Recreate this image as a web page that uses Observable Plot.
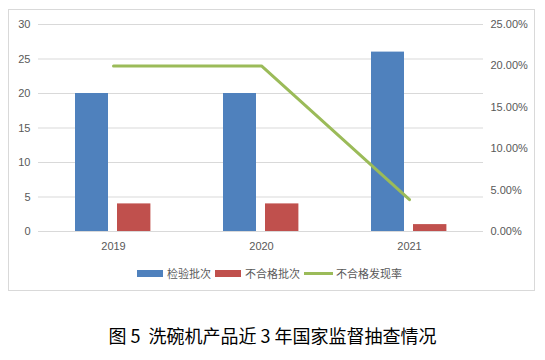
<!DOCTYPE html>
<html>
<head>
<meta charset="utf-8">
<script src="https://cdn.jsdelivr.net/npm/d3@7"></script>
<script src="https://cdn.jsdelivr.net/npm/@observablehq/plot@0.6"></script>
<style>
  html, body { margin: 0; padding: 0; background: #fff; }
  body { width: 545px; height: 360px; position: relative; overflow: hidden; }
  #frame { position: absolute; left: 8px; top: 9px; width: 527px; height: 282px; box-sizing: border-box; border: 1px solid #d9d9d9; }
  #chart { position: absolute; left: 0; top: 0; }
  #legend { position: absolute; left: 137px; top: 265px; height: 16px; display: flex; align-items: center;
            font-family: "Noto Sans CJK SC", sans-serif; font-size: 11px; color: #595959; }
  #legend .sw { display: inline-block; width: 26px; height: 7px; margin-right: 4px; }
  #legend .ln { display: inline-block; width: 29px; height: 3px; margin-right: 3px; }
  #legend .item { display: flex; align-items: center; margin-right: 4px; }
  #caption { position: absolute; left: 0; width: 545px; top: 322px; line-height: 26px; text-align: center;
             font-family: "Noto Sans CJK SC", sans-serif; font-size: 18px; color: #000; }
</style>
</head>
<body>
<div id="frame"></div>
<div id="chart"></div>
<div id="legend"></div>
<div id="caption">图 5&nbsp;&nbsp;洗碗机产品近 3 年国家监督抽查情况</div>
<script>
const years = ["2019", "2020", "2021"];
const inspected = [20, 20, 26];      // 检验批次
const failed = [4, 4, 1];            // 不合格批次
const failRate = [0.20, 0.20, 0.0385]; // 不合格发现率
const leftTicks = [0, 5, 10, 15, 20, 25, 30];
const rightTicks = [0, 0.05, 0.10, 0.15, 0.20, 0.25];
const seriesNames = ["检验批次", "不合格批次", "不合格发现率"];
const colors = ["#4F81BD", "#C0504D", "#9BBB59"];

const countMax = 30, rateMax = 0.25;
const k = countMax / rateMax;

const rows = years.map((y, i) => ({year: y, inspected: inspected[i], failed: failed[i], rate: failRate[i]}));

const chart = Plot.plot({
  width: 545,
  height: 300,
  marginLeft: 38,
  marginRight: 62,
  marginTop: 24,
  marginBottom: 69,
  style: {fontFamily: "'Liberation Sans', Arial, sans-serif", fontSize: "11px", color: "#595959", background: "transparent"},
  x: {type: "band", domain: years, padding: 0},
  y: {domain: [0, countMax]},
  marks: [
    Plot.ruleY(leftTicks, {stroke: "#d9d9d9", strokeWidth: 1}),
    Plot.barY(rows, {x: "year", y: "inspected", fill: colors[0], insetLeft: 36, insetRight: 79}),
    Plot.barY(rows, {x: "year", y: "failed", fill: colors[1], insetLeft: 78, insetRight: 36.6}),
    Plot.line(rows, {x: "year", y: d => d.rate * k, stroke: colors[2], strokeWidth: 3, strokeLinejoin: "miter"}),
    Plot.axisY({anchor: "left", ticks: leftTicks, tickSize: 0, tickPadding: 8, label: null}),
    Plot.axisY({anchor: "right", ticks: rightTicks.map(r => r * k), tickSize: 0, tickPadding: 7, label: null,
                tickFormat: d => (d / k * 100).toFixed(2) + "%"}),
    Plot.axisX({tickSize: 0, tickPadding: 11, label: null})
  ]
});
document.getElementById("chart").appendChild(chart);

const legend = document.getElementById("legend");
seriesNames.forEach((name, i) => {
  const item = document.createElement("span");
  item.className = "item";
  const sw = document.createElement("span");
  sw.className = i < 2 ? "sw" : "ln";
  sw.style.background = colors[i];
  const t = document.createElement("span");
  t.textContent = name;
  item.appendChild(sw);
  item.appendChild(t);
  legend.appendChild(item);
});
</script>
</body>
</html>
